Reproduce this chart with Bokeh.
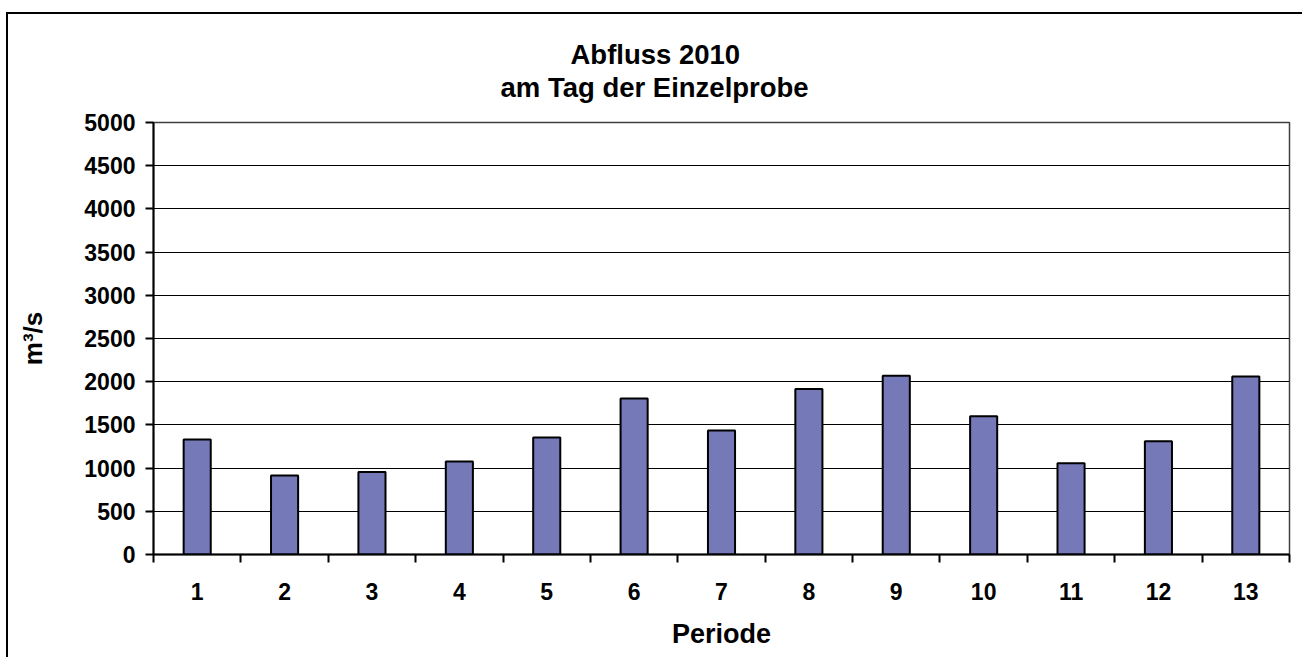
from bokeh.plotting import figure
from bokeh.models import Range1d, FixedTicker, Title
from bokeh.embed import file_html
from bokeh.resources import INLINE

# Data
periods = [1, 2, 3, 4, 5, 6, 7, 8, 9, 10, 11, 12, 13]
abfluss = [1330, 915, 955, 1075, 1355, 1805, 1435, 1915, 2070, 1600, 1055, 1310, 2060]
y_ticks = [0, 500, 1000, 1500, 2000, 2500, 3000, 3500, 4000, 4500, 5000]
title_line1 = "Abfluss 2010"
title_line2 = "am Tag der Einzelprobe"
x_label = "Periode"
y_label = "m³/s"

FONT = "Liberation Sans"

p = figure(width=1302, height=657, output_backend="svg", toolbar_location=None,
           title=None,
           x_range=Range1d(0.5, 13.5), y_range=Range1d(0, 5000),
           min_border_left=153, min_border_right=13, min_border_top=122, min_border_bottom=103)

# title: a tiny spacer next to the plot area, then the two title lines
spacer = Title(text=" ", text_font_size="1px", standoff=17)
t2 = Title(text=title_line2, align="left", offset=347, standoff=0,
           text_font=FONT, text_font_size="27.5px", text_font_style="bold", text_color="black")
t1 = Title(text=title_line1, align="left", offset=417, standoff=0,
           text_font=FONT, text_font_size="27.5px", text_font_style="bold", text_color="black")
p.add_layout(spacer, "above")
p.add_layout(t2, "above")
p.add_layout(t1, "above")

p.vbar(x=periods, top=abfluss, width=0.31, fill_color="#7579B8",
       line_color="black", line_width=2)

p.background_fill_color = "white"
p.border_fill_color = None
p.outline_line_color = "#404040"
p.outline_line_width = 1.5
# outer chart-area border (left and top edges visible in the picture)
p.styles = {"background": "linear-gradient(#000,#000) 6px 12px / 2px 100% no-repeat, "
                          "linear-gradient(#000,#000) 6px 12px / 100% 2px no-repeat, #fff"}

p.xgrid.grid_line_color = None
p.ygrid.grid_line_color = "black"
p.ygrid.grid_line_width = 1
p.ygrid.ticker = FixedTicker(ticks=y_ticks)

# x axis
xa = p.xaxis[0]
xa.ticker = FixedTicker(ticks=periods, minor_ticks=[v - 0.5 for v in periods] + [13.5])
xa.major_tick_out = 0
xa.major_tick_in = 0
xa.minor_tick_out = 8
xa.minor_tick_in = 0
xa.minor_tick_line_color = "black"
xa.minor_tick_line_width = 2
xa.axis_line_color = "black"
xa.axis_line_width = 2
xa.major_label_text_font = FONT
xa.major_label_text_font_size = "23px"
xa.major_label_text_font_style = "bold"
xa.major_label_text_color = "black"
xa.major_label_standoff = 20
xa.axis_label = x_label
xa.axis_label_text_font = FONT
xa.axis_label_text_font_size = "27px"
xa.axis_label_text_font_style = "bold"
xa.axis_label_text_color = "black"
xa.axis_label_standoff = 16

# y axis
ya = p.yaxis[0]
ya.ticker = FixedTicker(ticks=y_ticks)
ya.major_tick_out = 8
ya.major_tick_in = 0
ya.major_tick_line_color = "black"
ya.major_tick_line_width = 2
ya.minor_tick_out = 0
ya.minor_tick_in = 0
ya.axis_line_color = "black"
ya.axis_line_width = 2
ya.major_label_text_font = FONT
ya.major_label_text_font_size = "23px"
ya.major_label_text_font_style = "bold"
ya.major_label_text_color = "black"
ya.major_label_standoff = 10
ya.axis_label = y_label
ya.axis_label_text_font = FONT
ya.axis_label_text_font_size = "26px"
ya.axis_label_text_font_style = "bold"
ya.axis_label_text_color = "black"
ya.axis_label_standoff = 33

open("out.html", "w").write(file_html(p, INLINE))
